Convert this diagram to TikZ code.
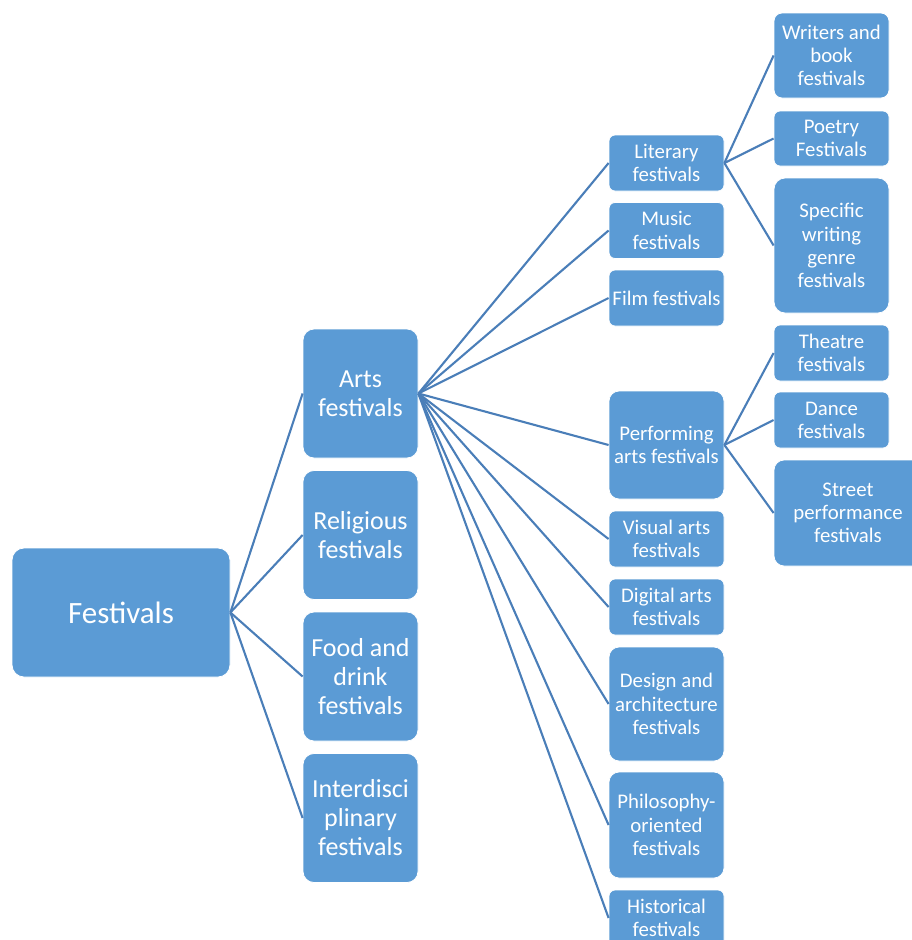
\documentclass[tikz,border=0pt]{standalone}
\usepackage{fontspec}
\setmainfont{Carlito}
\definecolor{boxfill}{HTML}{5B9BD5}
\definecolor{linkcol}{HTML}{4A7EB8}
\begin{document}
\begin{tikzpicture}[x=1pt,y=-1pt,
  box/.style={draw=white, line width=0.8pt, fill=boxfill, text=white,
    align=center, inner sep=0pt, minimum width=115pt},
  rootbox/.style={box, minimum width=218pt, minimum height=129pt,
    rounded corners=12pt, font=\fontsize{31}{37}\selectfont},
  lvlone/.style={box, minimum height=129pt, rounded corners=11pt,
    font=\fontsize{26}{29}\selectfont},
  lvltwo/.style={box, rounded corners=6pt, font=\fontsize{20.8}{23.2}\selectfont},
  link/.style={draw=linkcol, line width=2.1pt}]
\useasboundingbox (0,0) rectangle (912,940);

% root
\node[rootbox] (fest) at (121,612.5) {Festivals};

% first level
\node[lvlone] (arts) at (360.5,393.5) {Arts\\festivals};
\node[lvlone] (relig) at (360.5,535) {Religious\\festivals};
\node[lvlone] (food) at (360.5,676.5) {Food and\\drink\\festivals};
\node[lvlone] (inter) at (360.5,818) {Interdisci\\plinary\\festivals};

% second level (arts)
\node[lvltwo, minimum height=56pt] (lit) at (666.5,163) {Literary\\festivals};
\node[lvltwo, minimum height=56pt] (music) at (666.5,230.5) {Music\\festivals};
\node[lvltwo, minimum height=56pt] (film) at (666.5,298) {Film festivals};
\node[lvltwo, minimum height=108pt, rounded corners=10pt] (perf) at (666.5,445) {Performing\\arts festivals};
\node[lvltwo, minimum height=56pt] (visual) at (666.5,539) {Visual arts\\festivals};
\node[lvltwo, minimum height=56pt] (digital) at (666.5,607) {Digital arts\\festivals};
\node[lvltwo, minimum height=114pt, rounded corners=10pt] (design) at (666.5,704) {Design and\\architecture\\festivals};
\node[lvltwo, minimum height=106pt, rounded corners=10pt] (philo) at (666.5,825) {Philosophy-\\oriented\\festivals};
\node[lvltwo, minimum height=56pt] (hist) at (666.5,918) {Historical\\festivals};

% third level (literary)
\node[lvltwo, minimum height=85pt, rounded corners=8pt] (writers) at (831.5,55.5) {Writers and\\book\\festivals};
\node[lvltwo, minimum height=55pt] (poetry) at (831.5,138.5) {Poetry\\Festivals};
\node[lvltwo, minimum height=135pt, rounded corners=11pt] (genre) at (831.5,245.5) {Specific\\writing\\genre\\festivals};

% third level (performing arts)
\node[lvltwo, minimum height=56pt] (theatre) at (831.5,353) {Theatre\\festivals};
\node[lvltwo, minimum height=56pt] (dance) at (831.5,420) {Dance\\festivals};
\node[lvltwo, minimum width=148pt, minimum height=106pt, rounded corners=10pt] (street) at (848,513) {Street\\performance\\festivals};

% connectors
\foreach \c in {arts,relig,food,inter}
  \draw[link] (fest.east) -- (\c.west);
\foreach \c in {lit,music,film,perf,visual,digital,design,philo,hist}
  \draw[link] (arts.east) -- (\c.west);
\foreach \c in {writers,poetry,genre}
  \draw[link] (lit.east) -- (\c.west);
\foreach \c in {theatre,dance,street}
  \draw[link] (perf.east) -- (\c.west);
\end{tikzpicture}
\end{document}
